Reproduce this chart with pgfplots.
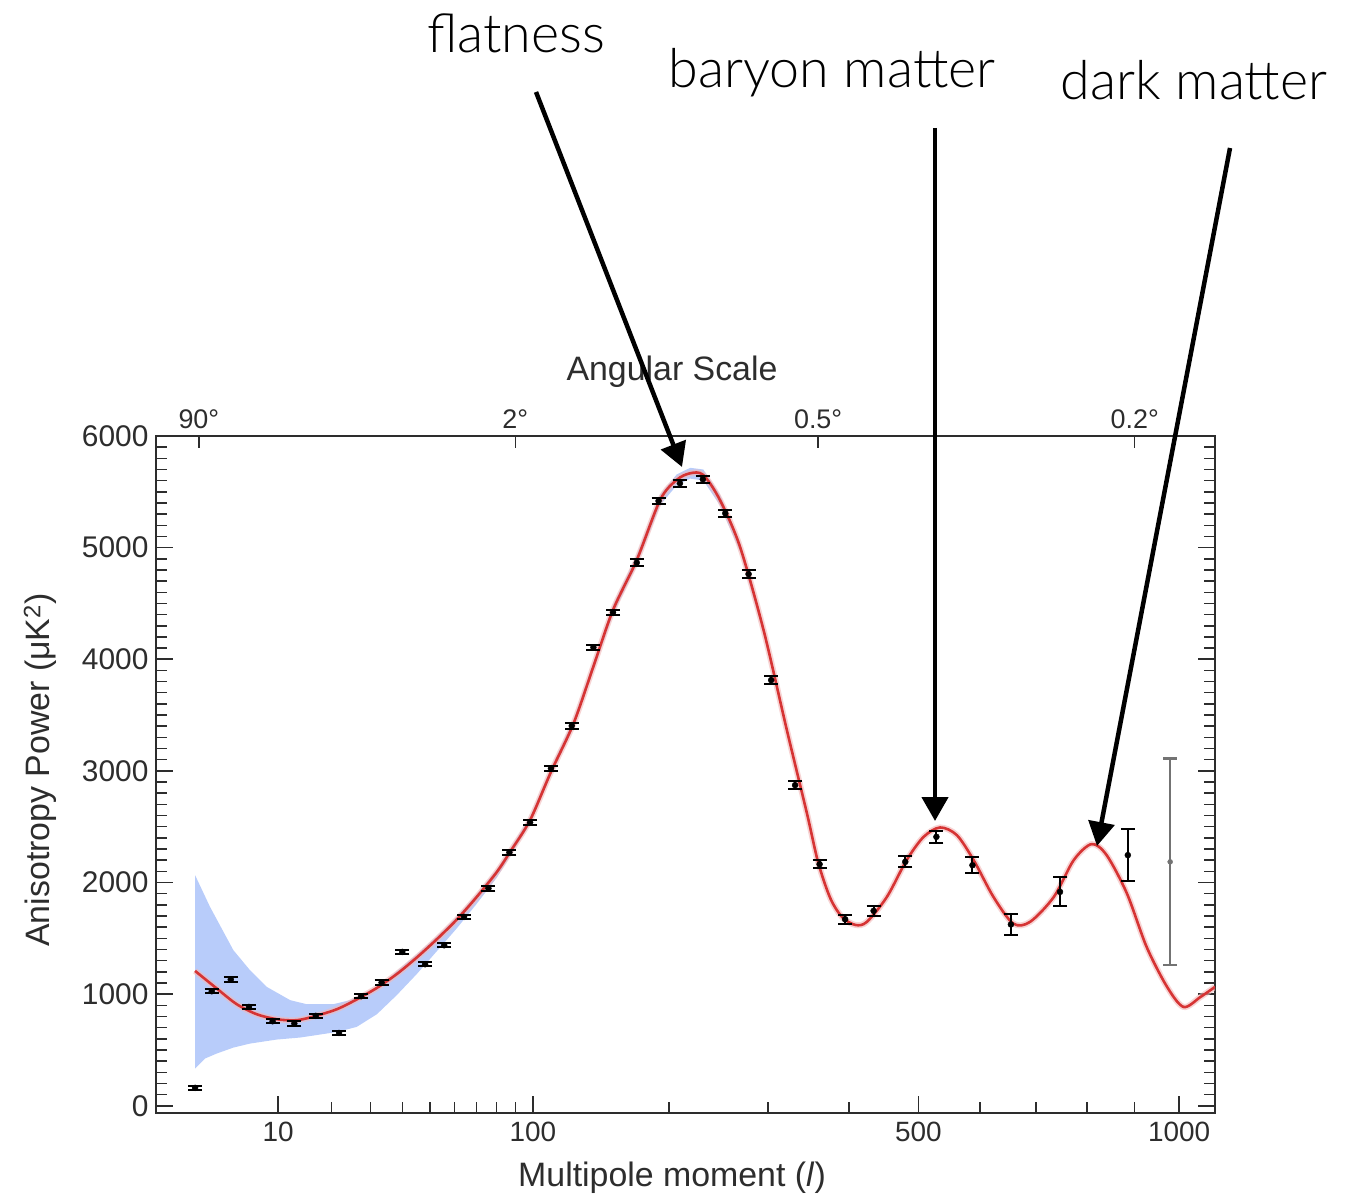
\documentclass[border=0pt]{standalone}
\usepackage{fontspec}
\setmainfont{Liberation Sans}
\IfFontExistsTF{Lato Light}{\newfontfamily\annot{Lato Light}}{\newfontfamily\annot{Lato}}
\usepackage{pgfplots}
\usepackage{pgfplotstable}
\pgfplotsset{compat=1.18}
\usetikzlibrary{arrows.meta}
\definecolor{curvered}{RGB}{214,52,52}
\definecolor{bandblue}{RGB}{184,204,250}
\definecolor{axisgray}{RGB}{45,45,45}

% binned WMAP points: multipole l, power D, error
\pgfplotstableread{
l D e
1.79 160 20
2.82 1026 20
4.35 1131 20
6.2 885 20
9.2 757 20
12.6 737 20
16.6 805 20
21.7 652 20
27.3 981 20
33.2 1104 20
39.9 1378 20
48.1 1268 20
55.7 1438 20
64.3 1692 20
75.9 1947 20
86.8 2270 20
98.4 2538 25
111 3022 25
124.5 3404 25
139.5 4107 25
154 4420 25
172.7 4865 30
191 5418 30
210 5576 30
231.6 5612 30
254 5307 30
278.5 4763 35
303.6 3813 35
331.6 2872 35
361.8 2164 35
395 1671 40
434 1746 45
480 2185 50
528 2409 55
587 2155 70
654 1624 95
746 1916 130
885 2245 235
}\wmap

\pgfplotstableread{
l D e
979 2185 925
}\wmaplast

% best-fit model curve
\pgfplotstableread{
l D
1.79 1208
3.19 1050
4.91 910
7.1 820
9.8 775
13.0 766
16.6 805
21.2 865
26.1 952
31.8 1056
38.0 1179
45.0 1328
52.7 1492
61.1 1669
70.2 1871
80.2 2095
87.2 2275
98.4 2559
111 2990
125.7 3425
139.5 3935
154 4441
172.7 4889
192.4 5427
207 5606
219.5 5666
232 5651
248.5 5427
269.3 5008
295 4262
321.8 3365
346 2619
360 2180
375.5 1860
391 1690
408.6 1620
424.5 1647
453 1871
482 2200
508 2409
534 2493
561 2424
589 2200
623 1871
658 1633
689 1647
734 1871
773 2200
809 2344
840 2245
883 1902
926 1423
972 1065
1010 885
1050 975
1085 1065
}\theory

% cosmic variance band: upper edge, then lower edge backwards
\pgfplotstableread{
l D
1.79 2066
2.70 1782
4.59 1394
6.32 1214
8.39 1065
11.9 946
14.8 910
20.4 910
24.4 946
28.9 1020
33.8 1100
38 1205
45 1355
52.7 1518
61.1 1694
70.2 1895
80.2 2120
87.2 2300
98.4 2590
111 3025
125.7 3462
139.5 3975
154 4485
172.7 4935
192.4 5475
207 5655
219.5 5715
232 5700
248.5 5475
269.3 5050
295 4295
321.8 3390
346 2640
360 2195
375.5 1870
375.5 1850
360 2165
346 2598
321.8 3340
295 4230
269.3 4966
248.5 5380
232 5602
219.5 5618
207 5558
192.4 5380
172.7 4845
154 4400
139.5 3898
125.7 3390
111 2958
98.4 2525
87.2 2238
80.2 2045
70.2 1810
61.1 1590
52.7 1385
45 1180
38 990
31.8 820
26.1 706
21.2 661
16.6 632
13.6 611
9.8 593
6.32 557
4.59 521
3.19 468
2.37 423
1.79 333
}\band

\begin{document}
\begin{tikzpicture}[x=1bp,y=1bp]
\path[use as bounding box] (0,0) rectangle (1350,1201);

% top axis: angular scale
\begin{axis}[
  at={(156bp,88bp)}, anchor=south west,
  scale only axis, width=1059bp, height=677bp,
  xmin=0.367, xmax=1085, ymin=-65, ymax=6000,
  x coord trafo/.code={\pgfmathparse{(#1)^0.4045}},
  x coord inv trafo/.code={\pgfmathparse{(#1)^2.4722}},
  axis line style={line width=2.2bp, axisgray},
  tick style={line width=1.5bp, axisgray},
  major tick length=12bp,
  xtick={2,90,360,900},
  xticklabels={90°,2°,0.5°,0.2°},
  xtick pos=right, xticklabel pos=right,
  ytick=\empty,
  tick label style={font=\fontsize{27}{27}\selectfont, text=axisgray},
  xticklabel style={yshift=4bp},
]
\addplot[draw=none] coordinates {(10,0)};
\end{axis}

% main axis
\begin{axis}[
  at={(156bp,88bp)}, anchor=south west,
  scale only axis, width=1059bp, height=677bp,
  xmin=0.367, xmax=1085, ymin=-65, ymax=6000,
  x coord trafo/.code={\pgfmathparse{(#1)^0.4045}},
  x coord inv trafo/.code={\pgfmathparse{(#1)^2.4722}},
  axis line style={line width=2.2bp, axisgray},
  tick style={line width=1.5bp, axisgray},
  major tick length=17bp, minor tick length=11bp,
  xtick={10,100,500,1000},
  xticklabels={10,100,500,1000},
  minor xtick={20,30,40,50,60,70,80,90,200,300,400,600,700,800,900},
  xtick pos=left,
  ytick={0,1000,2000,3000,4000,5000,6000},
  minor y tick num=9,
  ytick pos=both, yticklabel pos=left,
  /pgf/number format/assume math mode=true,
  /pgf/number format/1000 sep={},
  scaled ticks=false,
  tick label style={font=\fontsize{28}{28}\selectfont, text=axisgray},
  xticklabel style={yshift=-5bp},
  yticklabel style={font=\fontsize{30}{30}\selectfont, xshift=-4bp},
]
\addplot[fill=bandblue, draw=none] table[x=l, y=D] {\band} -- cycle;
\addplot[curvered!35, line width=6bp, smooth, opacity=0.6] table[x=l, y=D] {\theory};
\addplot[curvered, line width=2.6bp, smooth] table[x=l, y=D] {\theory};
\addplot[black, only marks, mark=*, mark size=3bp,
  error bars/.cd, y dir=both, y explicit,
  error bar style={line width=2bp, black},
  error mark options={rotate=90, line width=2bp, mark size=7bp, black}]
  table[x=l, y=D, y error=e] {\wmap};
\addplot[black!55, only marks, mark=*, mark size=2.5bp,
  error bars/.cd, y dir=both, y explicit,
  error bar style={line width=2.2bp, black!55},
  error mark options={rotate=90, line width=2.2bp, mark size=7bp, black!55}]
  table[x=l, y=D, y error=e] {\wmaplast};
\end{axis}

% axis titles
\node[font=\fontsize{34}{34}\selectfont, text=axisgray] at (672,829) {Angular Scale};
\node[font=\fontsize{34}{34}\selectfont, text=axisgray] at (672,23) {Multipole moment (\textit{l})};
\node[font=\fontsize{34}{34}\selectfont, text=axisgray, rotate=90] at (40,431) {Anisotropy Power (μK\textsuperscript{2})};

% annotations
\node[font=\annot\fontsize{54}{54}\selectfont, anchor=base] at (516,1148) {flatness};
\node[font=\annot\fontsize{54}{54}\selectfont, anchor=base] at (832,1113) {baryon matter};
\node[font=\annot\fontsize{54}{54}\selectfont, anchor=base] at (1194,1101) {dark matter};

\draw[line width=4.5bp, -{Triangle[length=24bp,width=26bp]}] (536,1109) -- (682,734);
\draw[line width=4.5bp, -{Triangle[length=24bp,width=26bp]}] (935,1073) -- (935,380);
\draw[line width=4.5bp, -{Triangle[length=24bp,width=26bp]}] (1230,1053) -- (1097,355);
\end{tikzpicture}
\end{document}
